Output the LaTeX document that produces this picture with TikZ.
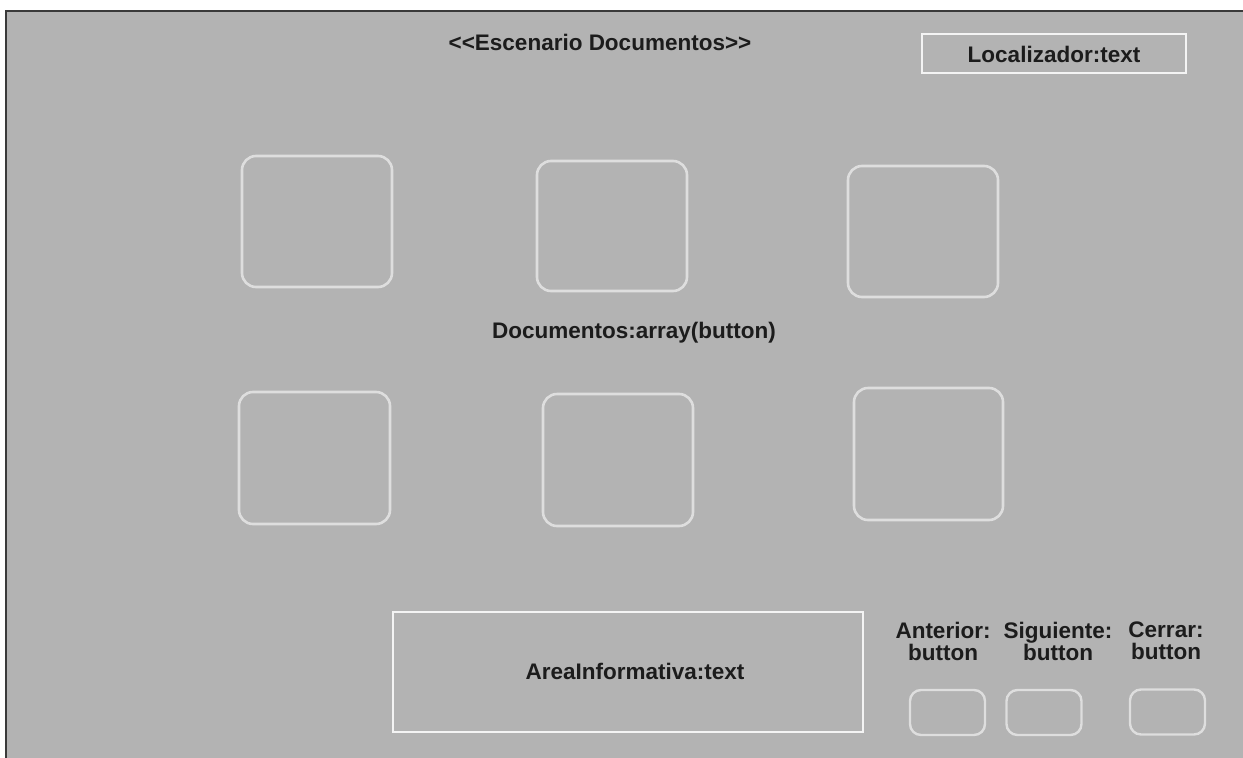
\documentclass[tikz,border=0pt]{standalone}
\usepackage{fontspec}
\setmainfont{Liberation Sans}
\definecolor{panel}{HTML}{B3B3B3}
\definecolor{frameline}{HTML}{3A3A3A}
\definecolor{ink}{HTML}{1C1C1C}
\definecolor{btnline}{HTML}{DEDEDE}
\definecolor{boxline}{HTML}{F4F4F4}
\tikzset{
  lbl/.style={text=ink, font=\bfseries\fontsize{22.5}{22}\selectfont, inner sep=0pt, align=center},
  docbtn/.style={draw=btnline, line width=2.6pt, rounded corners=14pt, inner sep=0pt, outer sep=0pt},
  navbtn/.style={draw=btnline, line width=2.4pt, rounded corners=11pt, inner sep=0pt, outer sep=0pt,
                 minimum width=75pt, minimum height=45pt},
  textbox/.style={draw=boxline, line width=2pt, inner sep=0pt, outer sep=0pt},
}
\begin{document}
\begin{tikzpicture}[x=1pt,y=-1pt]
\useasboundingbox (0,0) rectangle (1243,758);
\fill[white] (0,0) rectangle (1243,758);
\fill[panel] (6,11) rectangle (1243,758);
\draw[frameline, line width=2.2pt] (6,758) -- (6,11) -- (1243,11);

% header
\node[lbl] (title) at (600,42) {<\kern0pt<Escenario Documentos>\kern0pt>};
\node[textbox, minimum width=264pt, minimum height=39pt] (loc) at (1054,53.5) {};
\node[lbl] (loctxt) at (1054,54) {Localizador:text};

% document buttons
\node[docbtn, minimum width=150pt, minimum height=131pt] (d1) at (317,221.5) {};
\node[docbtn, minimum width=150pt, minimum height=130pt] (d2) at (612,226) {};
\node[docbtn, minimum width=150pt, minimum height=131pt] (d3) at (923,231.5) {};
\node[lbl] (doclbl) at (634,333) {Documentos:array(button)};
\node[docbtn, minimum width=151pt, minimum height=132pt] (d4) at (314.5,458) {};
\node[docbtn, minimum width=150pt, minimum height=132pt] (d5) at (618,460) {};
\node[docbtn, minimum width=149pt, minimum height=132pt] (d6) at (928.5,454) {};

% information area
\node[textbox, minimum width=470pt, minimum height=120pt] (area) at (628,672) {};
\node[lbl] (areatxt) at (635,671) {AreaInformativa:text};

% navigation buttons
\node[lbl] (antlbl) at (943,641) {Anterior:\\button};
\node[lbl] (siglbl) at (1058,641) {Siguiente:\\button};
\node[lbl] (cerlbl) at (1166,641) {Cerrar:\\button};
\node[navbtn] (ant) at (947.5,712.5) {};
\node[navbtn] (sig) at (1044,712.5) {};
\node[navbtn] (cer) at (1167.5,712) {};
\end{tikzpicture}
\end{document}
